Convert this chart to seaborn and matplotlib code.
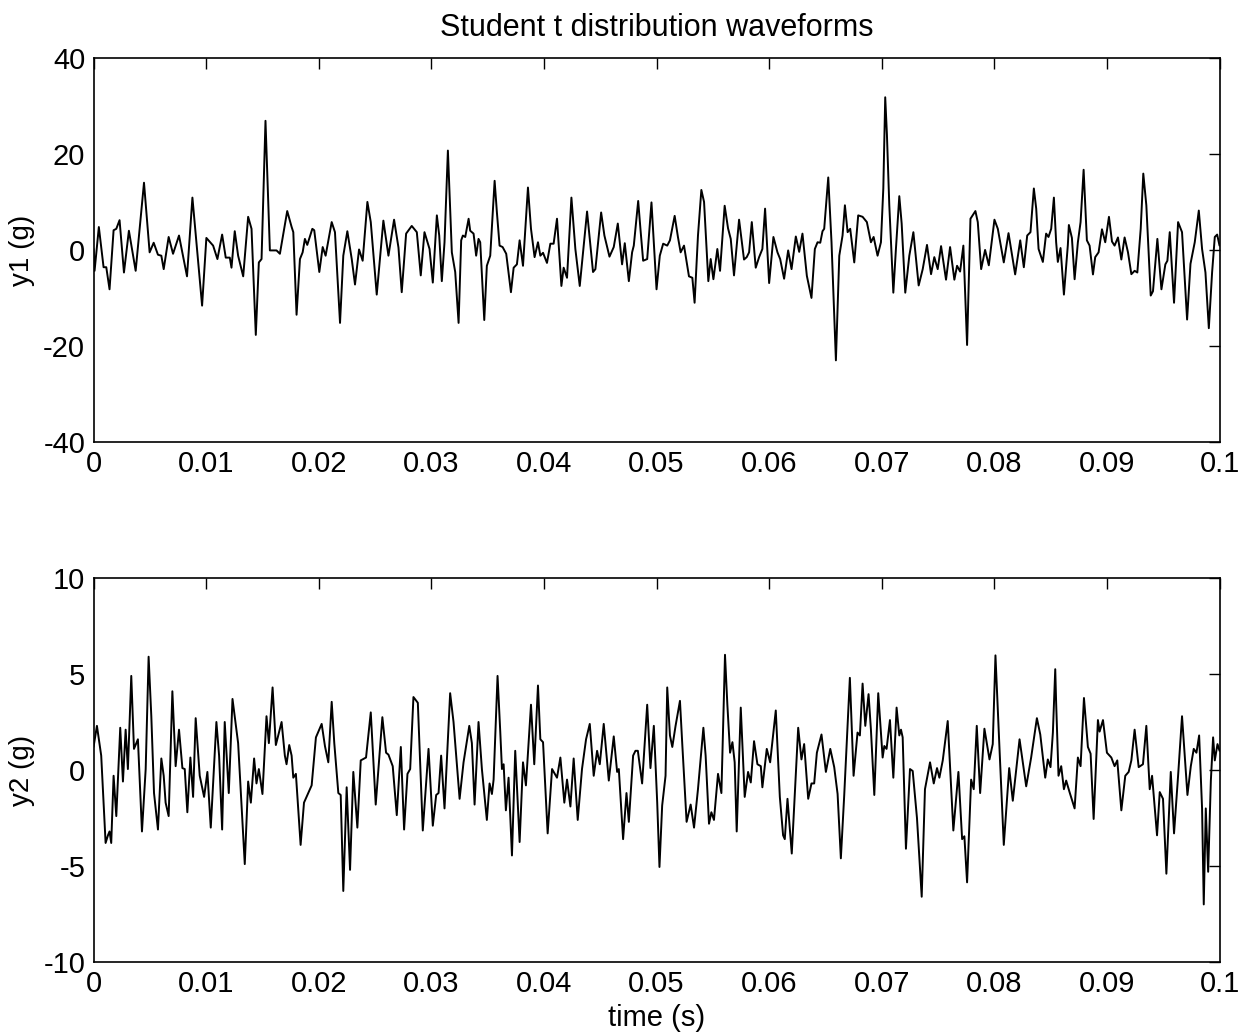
import numpy as np
import pandas as pd
import matplotlib
matplotlib.use("Agg")
import matplotlib.pyplot as plt
import seaborn as sns

# waveform vertices (time in ms, acceleration in g)
t1_ms = [0.00, 0.09, 0.47, 0.89, 1.13, 1.42, 1.78, 2.02, 2.31, 2.70, 3.14, 3.74, 4.48, 4.98, 5.34,
         5.72, 6.02, 6.23, 6.67, 7.06, 7.59, 8.30, 8.78, 9.64, 10.02, 10.62, 11.00, 11.42, 11.74,
         12.10, 12.25, 12.54, 12.84, 13.29, 13.73, 14.03, 14.41, 14.68, 14.92, 15.27, 15.66, 16.25,
         16.55, 17.20, 17.59, 17.74, 18.03, 18.33, 18.57, 18.77, 18.98, 19.43, 19.60, 20.05, 20.35,
         20.61, 21.15, 21.44, 21.89, 22.18, 22.54, 22.93, 23.22, 23.58, 23.90, 24.32, 24.62, 25.15,
         25.74, 26.19, 26.69, 27.08, 27.37, 27.76, 28.26, 28.71, 29.06, 29.39, 29.84, 30.13, 30.49,
         30.70, 30.93, 31.17, 31.47, 31.82, 32.12, 32.42, 32.65, 32.80, 33.01, 33.31, 33.45, 33.75,
         33.98, 34.19, 34.34, 34.70, 34.93, 35.23, 35.62, 35.82, 36.06, 36.33, 36.65, 37.07, 37.31,
         37.60, 37.84, 38.14, 38.58, 38.85, 39.17, 39.47, 39.68, 39.92, 40.27, 40.57, 40.86, 41.16,
         41.55, 41.75, 42.05, 42.44, 42.79, 43.18, 43.83, 44.36, 44.57, 45.08, 45.37, 45.82, 46.20,
         46.56, 46.94, 47.18, 47.54, 47.83, 47.98, 48.37, 48.57, 48.81, 49.17, 49.55, 50.00, 50.29,
         50.59, 50.95, 51.19, 51.61, 51.90, 52.14, 52.44, 52.73, 52.88, 53.18, 53.38, 53.68, 53.98,
         54.22, 54.60, 54.81, 55.05, 55.40, 55.64, 56.05, 56.35, 56.59, 56.88, 57.33, 57.77, 58.01,
         58.22, 58.46, 58.81, 59.11, 59.40, 59.64, 60.00, 60.38, 60.74, 60.98, 61.33, 61.69, 61.99,
         62.37, 62.67, 62.96, 63.35, 63.76, 64.06, 64.30, 64.54, 64.74, 64.89, 65.25, 65.54, 65.93,
         66.23, 66.52, 66.73, 66.97, 67.20, 67.56, 67.91, 68.30, 68.68, 69.04, 69.28, 69.63, 69.93,
         70.14, 70.31, 70.46, 70.67, 71.03, 71.26, 71.56, 71.77, 72.09, 72.45, 72.81, 73.28, 73.64,
         74.02, 74.38, 74.67, 74.97, 75.27, 75.71, 76.07, 76.45, 76.69, 76.96, 77.25, 77.58, 77.88,
         78.32, 78.53, 78.83, 79.18, 79.51, 80.01, 80.31, 80.84, 81.26, 81.85, 82.30, 82.62, 82.92,
         83.21, 83.51, 83.72, 83.93, 84.31, 84.60, 84.81, 85.05, 85.29, 85.49, 85.64, 85.88, 86.18,
         86.53, 86.62, 86.89, 87.13, 87.42, 87.66, 87.93, 88.22, 88.46, 88.76, 88.96, 89.26, 89.56,
         89.85, 90.18, 90.45, 90.68, 90.98, 91.28, 91.57, 91.87, 92.17, 92.46, 92.70, 93.00, 93.23,
         93.50, 93.89, 94.09, 94.48, 94.84, 95.19, 95.37, 95.58, 95.96, 96.32, 96.67, 97.12, 97.42,
         97.80, 98.16, 98.45, 98.75, 99.05, 99.34, 99.58, 99.79, 100.0]
y1 = [0.2, -4.35, 4.77, -3.6, -3.6, -8.2, 4.1, 4.4, 6.2, -4.7, 4.0, -4.35, 14.0, -0.5, 1.5,
      -1.0, -1.2, -4.0, 2.7, -0.8, 3.0, -5.5, 10.9, -11.6, 2.5, 0.9, -1.9, 3.2, -1.6,
      -1.6, -3.7, 3.9, -1.2, -5.5, 6.9, 4.4, -17.7, -2.6, -1.9, 26.9, -0.1, -0.1,
      -0.8, 8.1, 4.8, 3.7, -13.5, -1.9, -0.5, 2.3, 1.05, 4.4, 4.1, -4.6, 0.6,
      -1.2, 5.8, 3.7, -15.2, -1.2, 3.9, -1.9, -7.2, 0.1, -2.25, 10.0, 5.8, -9.3,
      6.1, -1.2, 6.3, 0.5, -8.8, 3.4, 5.0, 3.7, -5.3, 3.7, 0.2, -6.8, 7.2,
      3.0, -6.5, 1.6, 20.7, -0.5, -4.6, -15.2, 2.0, 3.0, 2.7, 6.5, 4.0, 3.4,
      -1.2, 2.3, 1.6, -14.6, -3.3, -1.2, 14.4, 7.9, 0.9, 0.6, -0.8, -8.8, -3.7,
      -3.0, 2.0, -3.3, 13.0, 4.4, -1.5, 1.6, -1.2, -0.6, -2.7, 1.3, 1.3, 6.5,
      -7.5, -3.7, -5.8, 10.9, 0.2, -7.5, 8.0, -4.6, -4.0, 7.8, 3.0, -1.4, 0.6,
      5.5, -3.0, 1.4, -6.5, -0.5, 0.9, 10.2, 4.4, -2.25, -1.9, 9.9, -8.2, -1.2,
      1.3, 0.9, 2.0, 7.1, 2.7, -0.5, 0.9, -3.3, -5.5, -5.8, -11.0, 3.0, 12.5,
      10.0, -6.5, -1.9, -6.1, 0.2, -4.35, 9.2, 4.5, 2.3, -5.3, 6.3, -2.0, -1.5,
      -0.5, 5.8, -3.7, -1.5, 0.2, 8.6, -6.9, 2.7, -0.5, -1.9, -6.0, -0.1, -4.0,
      2.8, -0.4, 3.4, -5.4, -10.0, 0.2, 1.6, 1.5, 3.9, 4.4, 15.1, 1.6, -23.0,
      -1.2, 3.0, 9.3, 3.7, 4.4, -2.6, 7.2, 6.9, 5.8, 1.6, 2.7, -1.2, 1.6,
      12.8, 31.8, 24.1, 9.4, -8.9, 0.2, 11.2, 5.5, -8.9, -1.2, 3.7, -7.4, -4.0,
      1.05, -5.05, -1.5, -4.0, 0.8, -6.2, 0.6, -6.2, -3.3, -4.5, 0.9, -19.8, 6.5,
      8.1, 5.8, -4.0, 0.0, -3.2, 6.3, 4.4, -2.6, 3.5, -5.1, 2.0, -3.6, 3.0,
      3.7, 12.8, 8.6, 0.2, -2.5, 3.4, 2.7, 4.4, 10.9, 1.6, -2.5, 0.4, -9.3,
      1.05, 5.2, 2.5, -6.1, 1.6, 5.8, 16.7, 2.0, 0.9, -5.1, -1.5, -0.5, 4.3,
      1.6, 6.9, 1.75, 0.9, 2.6, -2.0, 2.6, -0.5, -5.05, -4.35, -4.7, 4.4, 15.9,
      9.3, -9.5, -8.6, 2.3, -8.2, -3.0, -2.25, 3.7, -11.0, 5.8, 3.7, -14.5, -2.9,
      1.6, 8.2, 0.2, -4.7, -16.3, -4.7, 2.7, 3.2, 0.9]

t2_ms = [0.00, 0.30, 0.68, 1.07, 1.28, 1.42, 1.57, 1.78, 2.02, 2.37, 2.61, 2.85, 3.05, 3.35, 3.59,
         3.94, 4.30, 4.63, 4.89, 5.13, 5.37, 5.72, 6.02, 6.23, 6.40, 6.67, 7.00, 7.29, 7.59, 7.89,
         8.10, 8.33, 8.60, 8.84, 9.07, 9.43, 9.82, 10.11, 10.41, 10.91, 11.15, 11.42, 11.65, 12.01,
         12.34, 12.84, 13.43, 13.73, 13.97, 14.26, 14.47, 14.68, 15.00, 15.36, 15.57, 15.90, 16.19,
         16.70, 16.99, 17.14, 17.38, 17.59, 17.74, 17.97, 18.39, 18.69, 18.92, 19.37, 19.75, 20.26,
         20.55, 20.85, 21.15, 21.38, 21.74, 21.95, 22.18, 22.48, 22.78, 23.07, 23.43, 23.73, 24.20,
         24.62, 25.06, 25.65, 25.98, 26.19, 26.57, 26.93, 27.29, 27.58, 27.88, 28.12, 28.41, 28.80,
         29.24, 29.75, 30.13, 30.43, 30.64, 30.87, 31.17, 31.67, 31.97, 32.51, 32.86, 33.37, 33.60,
         33.84, 34.19, 34.49, 34.93, 35.17, 35.38, 35.53, 35.88, 36.12, 36.27, 36.42, 36.62, 36.86,
         37.16, 37.45, 37.84, 38.14, 38.40, 38.85, 39.14, 39.47, 39.68, 39.92, 40.33, 40.72, 41.16,
         41.46, 41.81, 42.05, 42.35, 42.64, 43.00, 43.38, 43.74, 44.07, 44.42, 44.72, 44.96, 45.31,
         45.76, 46.20, 46.50, 46.65, 47.03, 47.33, 47.54, 47.92, 48.13, 48.34, 48.72, 49.17, 49.46,
         49.76, 50.06, 50.26, 50.50, 50.80, 50.95, 51.19, 51.40, 51.69, 52.08, 52.29, 52.67, 53.03,
         53.33, 53.68, 54.16, 54.36, 54.66, 54.87, 55.10, 55.46, 55.76, 56.08, 56.29, 56.53, 56.74,
         56.94, 57.12, 57.48, 57.83, 58.13, 58.37, 58.66, 58.96, 59.26, 59.40, 59.79, 60.09, 60.59,
         60.95, 61.24, 61.39, 61.63, 62.01, 62.58, 62.87, 63.11, 63.47, 63.76, 64.00, 64.24, 64.65,
         65.04, 65.43, 65.78, 66.08, 66.37, 66.67, 67.17, 67.50, 67.85, 68.06, 68.30, 68.54, 68.83,
         69.04, 69.34, 69.69, 70.08, 70.23, 70.43, 70.73, 71.03, 71.32, 71.56, 71.71, 71.86, 72.15,
         72.51, 72.75, 73.13, 73.55, 73.84, 74.29, 74.62, 74.91, 75.12, 75.42, 75.86, 76.36, 76.81,
         77.14, 77.34, 77.58, 77.94, 78.17, 78.44, 78.74, 79.12, 79.57, 79.86, 80.10, 80.46, 80.84,
         81.32, 81.64, 82.24, 82.83, 83.27, 83.78, 84.08, 84.52, 84.75, 84.99, 85.20, 85.41, 85.49,
         85.70, 85.94, 86.18, 86.38, 86.68, 87.13, 87.42, 87.66, 87.96, 88.31, 88.55, 88.82, 89.20,
         89.35, 89.65, 90.00, 90.39, 90.68, 90.92, 91.28, 91.63, 91.93, 92.17, 92.46, 92.82, 93.20,
         93.50, 93.80, 94.01, 94.45, 94.69, 94.98, 95.28, 95.67, 95.96, 96.32, 96.67, 97.15, 97.45,
         97.71, 97.95, 98.19, 98.45, 98.60, 98.78, 98.99, 99.23, 99.43, 99.58, 99.82, 100.0]
y2 = [1.2, 2.3, 0.75, -3.8, -3.4, -3.2, -3.8, -0.3, -2.4, 2.2, -0.6, 2.1, 0.05, 4.9, 1.1,
      1.6, -3.2, 0.05, 5.9, 2.8, -1.2, -3.1, 0.6, -0.3, -1.7, -2.4, 4.1, 0.2, 2.1, 0.1,
      0.05, -2.2, 0.65, -1.4, 2.7, -0.3, -1.4, -0.1, -3.0, 2.5, 0.75, -3.1, 2.5, -1.2,
      3.7, 1.4, -4.9, -0.6, -1.7, 0.6, -0.7, 0.05, -1.25, 2.8, 1.4, 4.3, 1.3,
      2.5, 0.75, 0.3, 1.3, 0.75, -0.4, -0.2, -3.9, -1.7, -1.4, -0.8, 1.7, 2.4,
      1.25, 0.4, 3.55, 1.4, -1.2, -1.3, -6.3, -0.9, -5.2, -0.1, -3.0, 0.5, 0.65,
      3.0, -1.8, 2.75, 0.9, 0.8, 0.2, -2.35, 1.2, -3.1, -0.2, 0.05, 3.8, 3.5,
      -3.15, 1.1, -2.9, -1.3, -1.2, 0.75, -2.0, 4.0, 2.5, -1.5, 0.4, 2.3, 1.4,
      -1.8, 2.5, 0.05, -2.6, -0.7, -1.25, -0.5, 4.9, 2.0, 0.05, 0.3, -2.1, -0.4,
      -4.45, 1.0, -3.75, 0.4, -0.8, 3.4, 0.3, 4.4, 1.6, 1.45, -3.3, 0.05, -0.4,
      0.65, -1.7, -0.5, -1.9, 0.6, -2.6, 0.05, 1.6, 2.4, -0.3, 1.0, 0.3, 2.4,
      -0.55, 1.75, -0.1, 0.05, -3.6, -1.2, -2.7, 0.75, 1.0, 1.0, -0.7, 3.4, 0.1,
      2.3, -1.7, -5.05, -1.85, -0.3, 4.3, 1.8, 1.2, 2.3, 3.6, 1.3, -2.7, -1.8,
      -3.0, -1.0, 2.2, 0.75, -2.8, -2.2, -2.6, -0.2, -1.2, 6.0, 3.4, 0.9, 1.45,
      0.4, -3.2, 3.25, -1.4, -0.1, -0.65, 1.5, 0.3, 0.2, -0.9, 1.1, 0.4, 3.1,
      -1.4, -3.4, -3.6, -1.5, -4.35, 2.2, 0.55, 1.35, -1.5, -0.7, -0.7, 0.9, 1.85,
      -0.1, 1.1, 0.15, -1.25, -4.6, -1.3, 4.8, -0.3, 1.95, 1.8, 4.5, 2.3, 3.95,
      2.1, -1.3, 4.0, 0.65, 1.25, 1.1, 2.6, -0.4, 3.25, 1.8, 2.1, 1.7, -4.1,
      0.05, -0.05, -2.5, -6.6, -1.0, 0.4, -0.7, 0.1, -0.4, 0.5, 2.55, -3.15, -0.1,
      -3.6, -3.45, -5.85, -0.5, -1.0, 2.3, -1.2, 2.15, 0.55, 1.35, 5.97, 1.1, -3.9,
      0.1, -1.6, 1.6, -0.85, 0.65, 2.7, 1.85, -0.4, 0.55, 0.15, 1.95, 5.25, 3.5,
      -0.3, 0.2, -1.0, -0.55, -1.15, -2.0, 0.65, 0.2, 3.75, 1.2, 0.85, -2.55, 2.6,
      2.0, 2.6, 0.9, 0.65, 0.2, 0.5, -2.1, -0.3, -0.1, 0.5, 2.1, 0.15, 0.3,
      2.3, -1.0, -0.3, -3.4, -1.15, -1.5, -5.4, -0.1, -3.3, -0.3, 2.8, -1.3, 0.2,
      1.1, 0.9, 1.8, -2.0, -7.0, -2.0, -5.3, -0.55, 1.7, 0.5, 1.35, 1.0]

df1 = pd.DataFrame({"t": np.array(t1_ms) / 1000, "y": y1})
df2 = pd.DataFrame({"t": np.array(t2_ms) / 1000, "y": y2})

sns.set_theme(style="white")
plt.rcParams["font.family"] = ["Liberation Sans", "DejaVu Sans"]
plt.rcParams["axes.unicode_minus"] = False
plt.rcParams["text.color"] = "black"
plt.rcParams["axes.labelcolor"] = "black"

fig = plt.figure(figsize=(12.49, 10.36), dpi=100)
ax1 = fig.add_axes([0.0749, 0.5734, 0.9015, 0.3707])
ax2 = fig.add_axes([0.0749, 0.0714, 0.9015, 0.3707])

sns.lineplot(data=df1, x="t", y="y", ax=ax1, color="black", linewidth=1.4, sort=False)
sns.lineplot(data=df2, x="t", y="y", ax=ax2, color="black", linewidth=1.4, sort=False)

xticks = np.round(np.arange(0, 0.1001, 0.01), 2)
xlabels = ["0"] + [f"{v:.2f}" for v in xticks[1:-1]] + ["0.1"]

for ax, lim, yt, lab in [(ax1, (-40, 40), [-40, -20, 0, 20, 40], "y1 (g)"),
                         (ax2, (-10, 10), [-10, -5, 0, 5, 10], "y2 (g)")]:
    ax.set_xlim(0, 0.1)
    ax.set_ylim(*lim)
    ax.set_xticks(xticks)
    ax.set_xticklabels(xlabels)
    ax.set_yticks(yt)
    ax.set_ylabel(lab, fontsize=20, labelpad=6)
    ax.set_xlabel("")
    ax.tick_params(direction="in", top=True, right=True, length=8, width=1,
                   labelsize=21, colors="black", pad=6)
    for s in ax.spines.values():
        s.set_color("black")
        s.set_linewidth(1.2)

ax1.set_title("Student t distribution waveforms", fontsize=22, pad=16)
ax2.set_xlabel("time (s)", fontsize=21, labelpad=4)

fig.savefig("out.png", dpi=100, facecolor="white")
